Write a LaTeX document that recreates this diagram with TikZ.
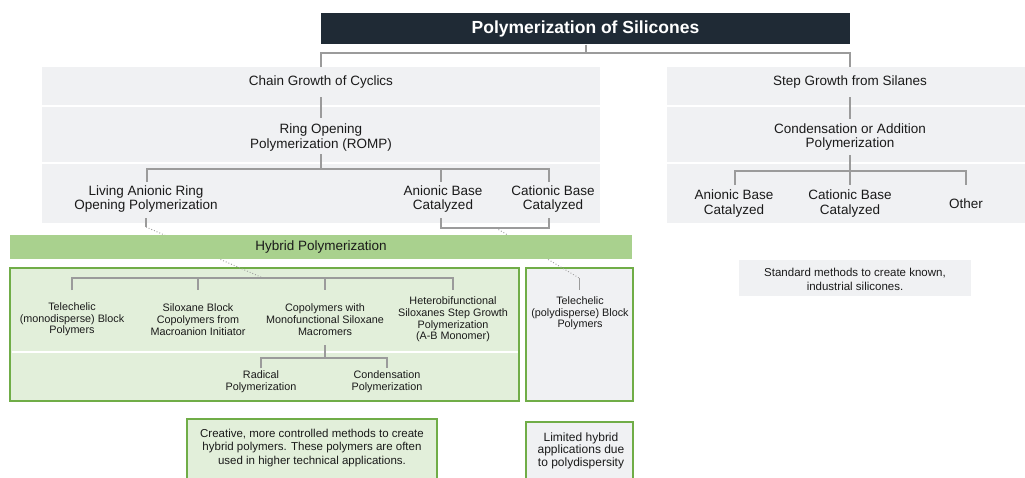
\documentclass[tikz,border=0pt]{standalone}
\usepackage{fontspec}
\setmainfont{Liberation Sans}
\definecolor{titlebg}{HTML}{1F2A35}
\definecolor{panel}{HTML}{F0F1F3}
\definecolor{hbar}{HTML}{A9D18E}
\definecolor{hfill}{HTML}{E2EFDA}
\definecolor{hborder}{HTML}{70AD47}
\definecolor{lineg}{HTML}{9B9B9B}
\definecolor{txt}{HTML}{1A1A1A}
\begin{document}
\begin{tikzpicture}[x=1pt,y=-1pt,
  big/.style={font=\fontsize{13.5}{14.5}\selectfont, align=center, text=txt, inner sep=0pt},
  small/.style={font=\fontsize{10.8}{11.7}\selectfont, align=center, text=txt, inner sep=0pt},
  note/.style={font=\fontsize{11.5}{13.3}\selectfont, align=center, text=txt, inner sep=0pt},
  conn/.style={draw=lineg, line width=1.3pt},
  dots/.style={draw=lineg, line width=0.9pt, dotted},
  gbox/.style={draw=hborder, line width=1.6pt}]
\clip (0,0) rectangle (1025,477);
\fill[white] (0,0) rectangle (1025,477);
% panels
\fill[panel] (42,67) rectangle (600,105);
\fill[panel] (42,107) rectangle (600,162);
\fill[panel] (42,164) rectangle (600,223);
\fill[panel] (667,67) rectangle (1030,105);
\fill[panel] (667,107) rectangle (1030,162);
\fill[panel] (667,164) rectangle (1030,223);
% title
\node[fill=titlebg, minimum width=529pt, minimum height=31pt, inner sep=0pt, text=white,
  font=\fontsize{17.5}{20}\selectfont\bfseries] (title) at (585.5,28.5) {Polymerization of Silicones};
% named junction coordinates
\coordinate (t0) at (586,44.5);
\coordinate (t1) at (586,53);
\coordinate (tl) at (321,53);
\coordinate (tr) at (850,53);
\coordinate (chaintop) at (321,67);
\coordinate (steptop) at (850,67);
% texts top-left
\node[big] (chain) at (321,82) {Chain Growth of Cyclics};
\node[big] (romp) at (321,137.5) {Ring Opening\\Polymerization (ROMP)};
\node[big] (living) at (146,199) {Living Anionic Ring\\Opening Polymerization};
\node[big] (anb) at (443,199) {Anionic Base\\Catalyzed};
\node[big] (catb) at (553,199) {Cationic Base\\Catalyzed};
% texts top-right
\node[big] (step) at (850,82) {Step Growth from Silanes};
\node[big] (cond) at (850,137) {Condensation or Addition\\Polymerization};
\node[big] (anb2) at (734,203.5) {Anionic Base\\Catalyzed};
\node[big] (catb2) at (850,203.5) {Cationic Base\\Catalyzed};
\node[big] (other) at (966,203.5) {Other};
% top connectors
\draw[conn] (t0) -- (t1);
\draw[conn] (chaintop) -- (tl) -- (tr) -- (steptop);
\draw[conn] (321,97) -- (321,118);
\draw[conn] (321,154) -- (321,169);
\draw[conn] (147,182) -- (147,169) -- (549,169) -- (549,182);
\draw[conn] (441,169) -- (441,182);
\draw[conn] (146,218) -- (146,227);
\draw[conn] (441,218) -- (441,228) -- (549,228) -- (549,218);
\draw[conn] (850,97) -- (850,119);
\draw[conn] (850,155) -- (850,185);
\draw[conn] (735,185) -- (735,171) -- (966,171) -- (966,185);
% hybrid boxes
\draw[gbox, fill=hfill] (10,268) rectangle (519,401);
\draw[white, line width=1.6pt] (11.5,352) -- (517.5,352);
\draw[gbox, fill=panel] (526,268) rectangle (633,401);
% dotted links
\coordinate (lvbot) at (146,227);
\coordinate (htop) at (263,278);
\coordinate (brk) at (496,228);
\coordinate (ptop) at (579,278);
\draw[dots] (lvbot) -- (htop);
\draw[dots] (brk) -- (ptop);
\draw[conn, line width=1pt] (ptop) -- (579,290);
% hybrid bar
\node[fill=hbar, minimum width=622pt, minimum height=24pt, inner sep=0pt, text=txt,
  font=\fontsize{13.5}{14.5}\selectfont] (hybrid) at (321,247) {Hybrid Polymerization};
% hybrid tree
\draw[conn] (72,290) -- (72,278) -- (453,278) -- (453,290);
\draw[conn] (198,278) -- (198,290);
\draw[conn] (325,278) -- (325,290);
\node[small] (tele) at (72,319.5) {Telechelic\\(monodisperse) Block\\Polymers};
\node[small] (silox) at (198,319.5) {Siloxane Block\\Copolymers from\\Macroanion Initiator};
\node[small] (copo) at (325,319.5) {Copolymers with\\Monofunctional Siloxane\\Macromers};
\node[small] (hetero) at (453,319.5) {Heterobifunctional\\Siloxanes Step Growth\\Polymerization\\(A-B Monomer)};
\draw[conn] (325,345) -- (325,358);
\draw[conn] (261,368) -- (261,358) -- (387,358) -- (387,368);
\node[small] (rad) at (261,381.5) {Radical\\Polymerization};
\node[small] (condp) at (387,381.5) {Condensation\\Polymerization};
\node[small] (telep) at (580,313.5) {Telechelic\\(polydisperse) Block\\Polymers};
% notes
\fill[panel] (739,260) rectangle (971,296);
\node[note] (std) at (855,279.5) {Standard methods to create known,\\industrial silicones.};
\draw[gbox, fill=hfill] (187,419) rectangle (437,485);
\node[note] (creative) at (312,448) {Creative, more controlled methods to create\\hybrid polymers. These polymers are often\\used in higher technical applications.};
\draw[gbox, fill=panel] (526,422) rectangle (633,485);
\node[note, font=\fontsize{12}{12.5}\selectfont] (limited) at (581,450.5) {Limited hybrid\\applications due\\to polydispersity};
\end{tikzpicture}
\end{document}
